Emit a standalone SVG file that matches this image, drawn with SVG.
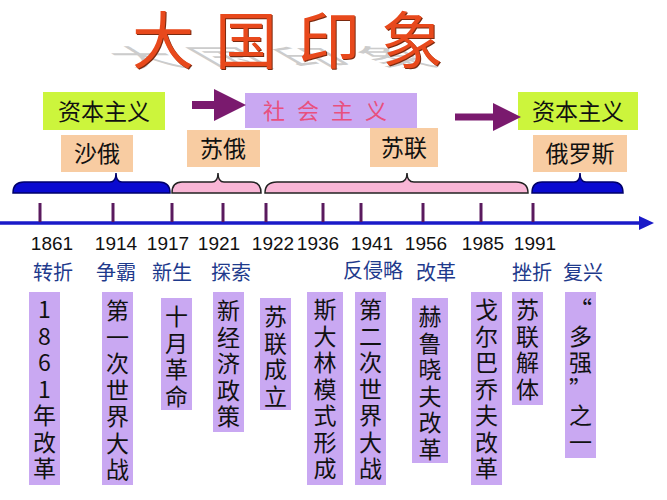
<svg xmlns="http://www.w3.org/2000/svg" width="667" height="500" viewBox="0 0 667 500">
<style>
.cjk{font-family:"Noto Sans CJK SC","Noto Sans",sans-serif}
.green{fill:#ccf53c}
.peach{fill:#f8cca2}
.lav{fill:#c9a8f2}
.boxt{font-family:"Noto Sans CJK SC",sans-serif;font-size:23px;fill:#111;text-anchor:middle}
.vt{font-family:"Noto Sans CJK SC",sans-serif;font-size:23px;fill:#111;writing-mode:vertical-rl;text-orientation:upright;letter-spacing:3.5px}
.nv{font-feature-settings:"vert" 0,"vrt2" 0}
.year{font-family:"Liberation Sans",Arial,sans-serif;font-size:19px;fill:#111;text-anchor:middle}
.lbl{font-family:"Noto Sans CJK SC",sans-serif;font-size:20px;fill:#1e3a8c;text-anchor:middle}
.tick{stroke:#5a1a5e;stroke-width:3}
</style>
<defs>
<marker id="ah" markerWidth="4" markerHeight="4" refX="1" refY="2" orient="auto" markerUnits="strokeWidth"><path d="M0,0 L4,2 L0,4 Z" fill="#7a1a6e"/></marker>
</defs>
<rect width="667" height="500" fill="#ffffff"/>

<g id="title">
<text class="cjk" x="131" y="67" font-size="62" letter-spacing="21" fill="#c4c4c4" opacity="0.85" transform="translate(0,67) skewX(60) scale(1,0.4) translate(0,-67)">大国印象</text>
<text class="cjk" x="133" y="65" font-size="62" letter-spacing="21" fill="#7a2a10">大国印象</text>
<text class="cjk" x="132" y="64" font-size="62" letter-spacing="21" fill="#e8491c">大国印象</text>
</g>

<g id="top-boxes">
<g id="capitalism1"><rect class="green" x="43" y="92" width="122" height="38"/><text class="boxt" x="104" y="120">资本主义</text></g>
<g id="socialism"><rect class="lav" x="245" y="93" width="172" height="35"/><text class="cjk" x="331" y="119" font-size="22" fill="#e8507e" text-anchor="middle" letter-spacing="12">社会主义</text></g>
<g id="capitalism2"><rect class="green" x="518" y="92" width="120" height="38"/><text class="boxt" x="578" y="120">资本主义</text></g>
<g id="tsarist"><rect class="peach" x="61" y="135" width="72" height="37"/><text class="boxt" x="97" y="162">沙俄</text></g>
<g id="soviet-russia"><rect class="peach" x="187" y="130" width="73" height="37"/><text class="boxt" x="223" y="157">苏俄</text></g>
<g id="ussr"><rect class="peach" x="370" y="128" width="68" height="39"/><text class="boxt" x="404" y="156">苏联</text></g>
<g id="russia"><rect class="peach" x="533" y="135" width="94" height="37"/><text class="boxt" x="580" y="162">俄罗斯</text></g>
</g>

<g id="connectors">
<line x1="192" y1="105" x2="222" y2="105" stroke="#7a1a6e" stroke-width="8" marker-end="url(#ah)"/>
<line x1="455" y1="117" x2="500" y2="117" stroke="#7a1a6e" stroke-width="7" marker-end="url(#ah)"/>
<path d="M13,193 Q13,182 24,182 L110,182 Q116,182 116,173 Q116,182 122,182 L159,182 Q170,182 170,193 Z" fill="#0a0ad0" stroke="#00006a" stroke-width="1.5"/>
<path d="M172,193 Q172,182 182,182 L212,182 Q218,182 218,173 Q218,182 224,182 L251,182 Q261,182 261,193 Z" fill="#f9b6d6" stroke="#222" stroke-width="1.5"/>
<path d="M265,193 Q265,182 277,182 L400,182 Q407,182 407,173 Q407,182 414,182 L516,182 Q528,182 528,193 Z" fill="#f9b6d6" stroke="#222" stroke-width="1.5"/>
<path d="M532,193 Q532,182 542,182 L574,182 Q580,182 580,173 Q580,182 586,182 L613,182 Q623,182 623,193 Z" fill="#0a0ad0" stroke="#00006a" stroke-width="1.5"/>
<line x1="0" y1="223" x2="643" y2="223" stroke="#1a1ac8" stroke-width="3.5"/>
<path d="M639,216 L654,223 L639,230 Z" fill="#1a1ac8"/>
<line class="tick" x1="40" y1="203" x2="40" y2="222"/>
<line class="tick" x1="113" y1="203" x2="113" y2="222"/>
<line class="tick" x1="172" y1="203" x2="172" y2="222"/>
<line class="tick" x1="223" y1="203" x2="223" y2="222"/>
<line class="tick" x1="266" y1="203" x2="266" y2="222"/>
<line class="tick" x1="323" y1="203" x2="323" y2="222"/>
<line class="tick" x1="361" y1="203" x2="361" y2="222"/>
<line class="tick" x1="423" y1="203" x2="423" y2="222"/>
<line class="tick" x1="481" y1="203" x2="481" y2="222"/>
<line class="tick" x1="533" y1="203" x2="533" y2="222"/>
</g>

<g id="years">
<text class="year" x="52" y="250">1861</text>
<text class="year" x="116" y="250">1914</text>
<text class="year" x="168" y="250">1917</text>
<text class="year" x="219" y="250">1921</text>
<text class="year" x="273" y="250">1922</text>
<text class="year" x="318" y="250">1936</text>
<text class="year" x="372" y="250">1941</text>
<text class="year" x="426" y="250">1956</text>
<text class="year" x="483" y="250">1985</text>
<text class="year" x="535" y="250">1991</text>
</g>

<g id="labels">
<text class="lbl" x="53" y="280">转折</text>
<text class="lbl" x="116" y="280">争霸</text>
<text class="lbl" x="172" y="280">新生</text>
<text class="lbl" x="231" y="280">探索</text>
<text class="lbl" x="373" y="278" font-size="16">反侵略</text>
<text class="lbl" x="436" y="280">改革</text>
<text class="lbl" x="532" y="280">挫折</text>
<text class="lbl" x="583" y="280">复兴</text>
</g>

<g id="e1861"><rect class="lav" x="29" y="292" width="31" height="193"/><text class="vt" x="44.5" y="298">1861年改革</text></g>
<g id="e1914"><rect class="lav" x="102" y="292" width="31" height="193"/><text class="vt" x="117.5" y="299">第一次世界大战</text></g>
<g id="e1917"><rect class="lav" x="161" y="298" width="31" height="112"/><text class="vt" x="176.5" y="305">十月革命</text></g>
<g id="e1921"><rect class="lav" x="213" y="292" width="31" height="140"/><text class="vt" x="228.5" y="299">新经济政策</text></g>
<g id="e1922"><rect class="lav" x="260" y="298" width="31" height="112"/><text class="vt" x="275.5" y="305">苏联成立</text></g>
<g id="e1936"><rect class="lav" x="307" y="292" width="36" height="193"/><text class="vt" x="325" y="298">斯大林模式形成</text></g>
<g id="e1941"><rect class="lav" x="355" y="292" width="31" height="193"/><text class="vt" x="370.5" y="298">第二次世界大战</text></g>
<g id="e1956"><rect class="lav" x="412" y="298" width="36" height="165"/><text class="vt" x="430" y="305">赫鲁晓夫改革</text></g>
<g id="e1985"><rect class="lav" x="471" y="292" width="31" height="193"/><text class="vt" x="486.5" y="298">戈尔巴乔夫改革</text></g>
<g id="e1991"><rect class="lav" x="512" y="292" width="31" height="113"/><text class="vt" x="527.5" y="298">苏联解体</text></g>
<g id="revival"><rect class="lav" x="565" y="292" width="31" height="166"/><text class="vt" x="580.5" y="298"><tspan class="nv">“</tspan>多强<tspan class="nv">”</tspan>之一</text></g>
</svg>
